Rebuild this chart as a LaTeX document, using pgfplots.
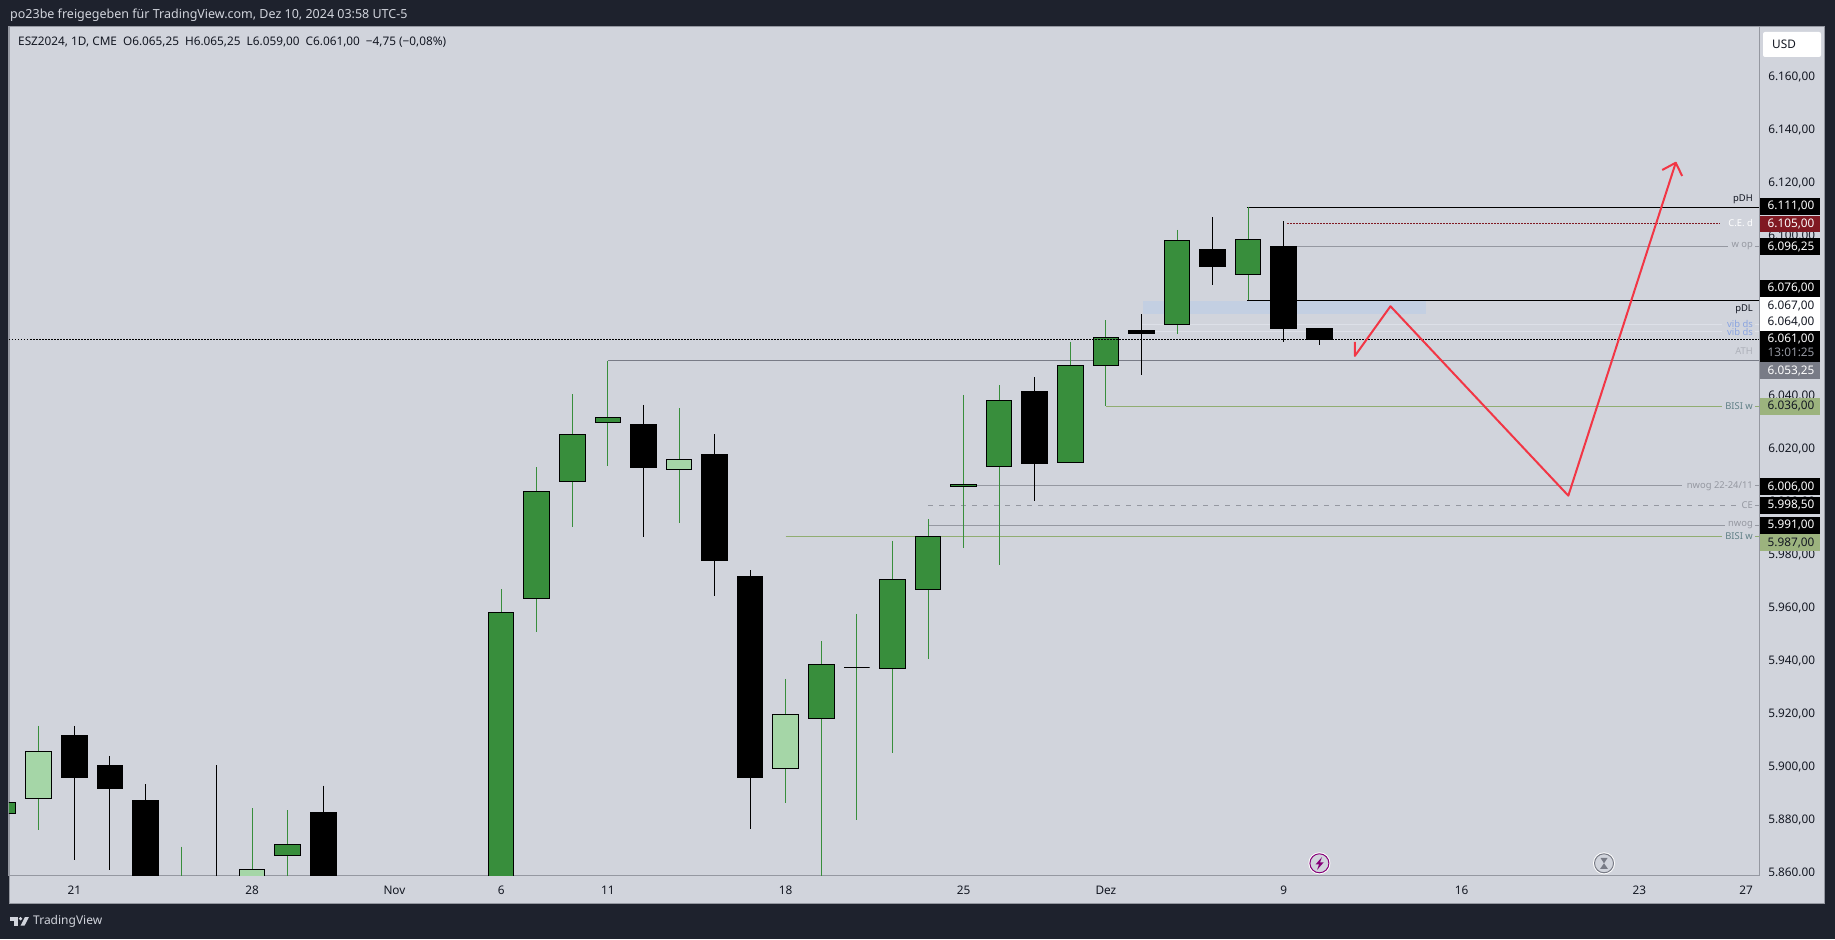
\documentclass[border=0pt]{standalone}
\usepackage{pgfplots}
\pgfplotsset{compat=1.18}
\usepackage{fontspec}
\setmainfont{Noto Sans}
\definecolor{frame}{HTML}{1E222D}
\definecolor{pane}{HTML}{D1D4DC}
\definecolor{bd}{HTML}{9598A1}
\definecolor{gA}{HTML}{388E3C}
\definecolor{gL}{HTML}{A5D6A7}
\definecolor{ath}{HTML}{787B86}
\definecolor{bisi}{HTML}{91AD72}
\definecolor{bisitag}{HTML}{9CB37E}
\definecolor{bisitxt}{HTML}{5F7F86}
\definecolor{vibtxt}{HTML}{8AA4E0}
\definecolor{vib}{HTML}{DDE0E8}
\definecolor{fvg}{HTML}{C3CFE2}
\definecolor{ced}{HTML}{801922}
\definecolor{redl}{HTML}{F23645}
\definecolor{ink}{HTML}{131722}
% x high bodytop bodybottom low bodycolour wickcolour
\newcommand\candle[7]{%
  \pgfmathsetmacro\xa{#1-0.36}\pgfmathsetmacro\xb{#1+0.36}%
  \addplot[draw=#7,line width=1pt] coordinates {(#1,#2)(#1,#5)};
  \edef\tmp{\noexpand\addplot[draw=black,fill=#6,line width=1pt] coordinates {(\xa,#3)(\xb,#3)(\xb,#4)(\xa,#4)} --cycle;}\tmp
}
\newcommand\T[6][9.4]{\node[anchor=#4,text=#5,inner sep=0pt,font=\fontsize{#1}{#1}\selectfont] at (#2,{939-#3}) {#6};}
\newcommand\tagbox[5]{\fill[#3] (1760,{939-#1}) rectangle (1820,{939-#2});
  \node[text=#4,inner sep=0pt,font=\fontsize{11.8}{12}\selectfont] at (1791,{939-(#1+#2)/2}) {#5};}
\begin{document}
\begin{tikzpicture}[x=1pt,y=1pt]
\path[use as bounding box] (0,0) rectangle (1835,939);
\fill[frame] (0,0) rectangle (1835,939);
\fill[pane,draw=bd,line width=1pt] (9.5,35.5) rectangle (1824.5,912);
\begin{axis}[
  at={(9pt,63pt)},anchor=south west,scale only axis,width=1750pt,height=849pt,
  xmin=-1.836,xmax=47.363,ymin=5858.95,ymax=6178.96,
  axis line style={draw=bd,line width=1pt},
  major tick length=0pt,
  xtick={0,5,9,12,15,20,25,29,34,39,44,47},
  xticklabels={21,28,Nov,6,11,18,25,Dez,9,16,23,27},
  xticklabel style={anchor=center,yshift=-14pt,inner sep=0pt,text=ink,font=\fontsize{11.8}{12}\selectfont},
  ytick={5860,5880,5900,5920,5940,5960,5980,6000,6020,6040,6060,6080,6100,6120,6140,6160},
  yticklabel pos=right,
  scaled y ticks=false,
  yticklabel style={anchor=west,xshift=9pt,inner sep=0pt,text=ink,font=\fontsize{11.8}{12}\selectfont,
    /pgf/number format/.cd,fixed,fixed zerofill,precision=2,1000 sep={.},dec sep={,},assume math mode=true},
]
% FVG
\addplot[draw=none,fill=fvg] coordinates {(30.04,6075.7)(38,6075.7)(38,6070.75)(30.04,6070.75)} --cycle;
% horizontals
\addplot[draw=vib,line width=1pt] coordinates {(30,6067)(46.32,6067)};
\addplot[draw=vib,line width=1pt] coordinates {(47.25,6067)(47.363,6067)};
\addplot[draw=vib,line width=1pt] coordinates {(30,6064)(46.32,6064)};
\addplot[draw=vib,line width=1pt] coordinates {(47.25,6064)(47.363,6064)};
\addplot[draw=black,line width=1pt] coordinates {(32.97,6111)(47.363,6111)};
\addplot[draw=black,line width=1pt] coordinates {(32.97,6076)(47.363,6076)};
\addplot[draw=ced,line width=1pt,dash pattern=on 1.5pt off 1.5pt] coordinates {(34.1,6105)(46.26,6105)};
\addplot[draw=bd,line width=1pt] coordinates {(34,6096.25)(46.49,6096.25)};
\addplot[draw=bd,line width=1pt] coordinates {(47.25,6096.25)(47.363,6096.25)};
\addplot[draw=ath,line width=1pt] coordinates {(15,6053.25)(47.363,6053.25)};
\addplot[draw=bisi,line width=1pt] coordinates {(29,6036)(46.32,6036)};
\addplot[draw=bisi,line width=1pt] coordinates {(47.25,6036)(47.363,6036)};
\addplot[draw=bd,line width=1pt] coordinates {(25,6006)(45.2,6006)};
\addplot[draw=bd,line width=1pt] coordinates {(47.25,6006)(47.363,6006)};
\addplot[draw=bd,line width=1pt,dash pattern=on 5pt off 6pt] coordinates {(24,5998.5)(46.75,5998.5)};
\addplot[draw=bd,line width=1pt] coordinates {(47.25,5998.5)(47.363,5998.5)};
\addplot[draw=bd,line width=1pt] coordinates {(24,5991)(46.41,5991)};
\addplot[draw=bd,line width=1pt] coordinates {(47.25,5991)(47.363,5991)};
\addplot[draw=bisi,line width=1pt] coordinates {(20,5987)(46.32,5987)};
\addplot[draw=bisi,line width=1pt] coordinates {(47.25,5987)(47.363,5987)};
% candles
\candle{-2}{5886.75}{5886.75}{5882.5}{5882.5}{gA}{gA}
\candle{-1}{5915.5}{5906}{5888}{5876.25}{gL}{gA}
\candle{0}{5915.5}{5911.75}{5896}{5865}{black}{black}
\candle{1}{5904.25}{5900.75}{5892}{5861.25}{black}{black}
\candle{2}{5893.5}{5887.25}{5850}{5845}{black}{black}
\candle{3}{5870}{5855}{5850}{5845}{gA}{gA}
\candle{4}{5900.75}{5855}{5850}{5845}{black}{black}
\candle{5}{5884.5}{5861.5}{5850}{5845}{gL}{gA}
\candle{6}{5883.75}{5871}{5866.5}{5850}{gA}{gA}
\candle{7}{5893}{5883}{5850}{5845}{black}{black}
\candle{12}{5967}{5958.25}{5850}{5845}{gA}{gA}
\candle{13}{6013}{6004}{5963.5}{5951}{gA}{gA}
\candle{14}{6040.5}{6025.5}{6007.5}{5990.5}{gA}{gA}
\candle{15}{6053.25}{6031.75}{6029.75}{6013.5}{gA}{gA}
\candle{16}{6036.5}{6029.25}{6012.75}{5986.75}{black}{black}
\candle{17}{6035.25}{6016}{6012}{5992}{gL}{gA}
\candle{18}{6025.5}{6018}{5978}{5964.5}{black}{black}
\candle{19}{5974.25}{5972}{5896.25}{5876.75}{black}{black}
\candle{20}{5933.25}{5920}{5899.5}{5886.5}{gL}{gA}
\candle{21}{5947.5}{5938.75}{5918.5}{5855}{gA}{gA}
\candle{22}{5957.75}{5937.5}{5937.5}{5880}{black}{gA}
\candle{23}{5985.25}{5970.75}{5937}{5905.25}{gA}{gA}
\candle{24}{5993.5}{5987}{5967}{5940.75}{gA}{gA}
\candle{25}{6040.25}{6006.5}{6005.75}{5982.75}{gA}{gA}
\candle{26}{6044}{6038.25}{6013.25}{5976.25}{gA}{gA}
\candle{27}{6047}{6041.75}{6014.5}{6000.25}{black}{black}
\candle{28}{6060.25}{6051.5}{6014.75}{6014.75}{gA}{gA}
\candle{29}{6068.5}{6062}{6051.5}{6036}{gA}{gA}
\candle{30}{6070.75}{6064.5}{6063.25}{6047.75}{black}{black}
\candle{31}{6102.5}{6098.5}{6066.75}{6063.25}{gA}{gA}
\candle{32}{6107.25}{6095.25}{6088.5}{6081.75}{black}{black}
\candle{33}{6111}{6099}{6085.5}{6076}{gA}{gA}
\candle{34}{6105.75}{6096.25}{6065.5}{6060.25}{black}{black}
\candle{35}{6065.25}{6065.25}{6061}{6059}{black}{black}
% last price
\addplot[draw=black,line width=1pt,dash pattern=on 1.5pt off 1.5pt] coordinates {(-1.836,6061)(47.363,6061)};
% sketch
\addplot[draw=redl,line width=2pt,line join=round] coordinates {(36,6060.3)(36,6055)(37,6073.7)(42,6002.3)(45.02,6127.8)};
\addplot[draw=redl,line width=2pt,line join=round] coordinates {(44.64,6125.06)(45.02,6127.8)(45.2,6122.8)};
\end{axis}
% cover under the price scale
\fill[pane] (1760,36.5) rectangle (1824,62.5);
% header and legend
\T[12.5]{10}{15}{west}{pane}{po23be freigegeben für TradingView.com, Dez 10, 2024 03:58 UTC-5}
\T[11.8]{18}{42}{west}{ink}{ESZ2024, 1D, CME\hspace{6pt}O6.065,25\hspace{6pt}H6.065,25\hspace{6pt}L6.059,00\hspace{6pt}C6.061,00\hspace{6pt}−4,75 (−0,08\%)}
% USD
\fill[white,rounded corners=2pt] (1763,{939-32}) rectangle (1821,{939-57});
\T[11.8]{1784}{44}{center}{ink}{USD}
% line labels
\T{1753}{199}{east}{ink}{pDH}
\T{1753}{223}{east}{white}{\textbf{C.E. d}}
\T{1753}{246.5}{east}{bd}{w op}
\T{1753}{309}{east}{ink}{pDL}
\T{1753}{323.5}{east}{vibtxt}{vib ds}
\T{1753}{332}{east}{vibtxt}{vib ds}
\T{1753}{351.5}{east}{bd!60!pane}{\textbf{ATH}}
\T{1753}{406}{east}{bisitxt}{BISI w}
\T{1753}{486}{east}{bd}{nwog 22-24/11}
\T{1753}{505.5}{east}{bd}{CE}
\T{1753}{525.5}{east}{bd}{nwog}
\T{1753}{536.5}{east}{bisitxt}{BISI w}
% price tags
\tagbox{198}{214.7}{black}{white}{6.111,00}
\tagbox{215.7}{232}{ced}{white}{6.105,00}
\tagbox{238}{255}{black}{white}{6.096,25}
\tagbox{280}{296.7}{black}{white}{6.076,00}
\tagbox{297.3}{314}{white}{ink}{6.067,00}
\tagbox{314}{330.7}{white}{ink}{6.064,00}
\fill[black] (1760,{939-331.3}) rectangle (1820,{939-361.7});
\T[11.8]{1791}{339}{center}{white}{6.061,00}
\T[11.8]{1791}{352.5}{center}{bd}{13:01:25}
\tagbox{362.3}{378.7}{ath}{white}{6.053,25}
\tagbox{398}{414.7}{bisitag}{ink}{6.036,00}
\tagbox{478.3}{495}{black}{white}{6.006,00}
\tagbox{497}{513.7}{black}{white}{5.998,50}
\tagbox{517}{533.7}{black}{white}{5.991,00}
\tagbox{534.3}{550.7}{bisitag}{ink}{5.987,00}
% bottom icons
\fill[white] (1319.4,{939-863.3}) circle (11);
\draw[purple!70!blue,line width=1pt,fill=pane] (1319.4,{939-863.3}) circle (9.5);
\fill[purple!70!blue] (1322,{939-857}) -- (1315.5,{939-864.5}) -- (1319,{939-864.5}) -- (1317,{939-870}) -- (1323.5,{939-862.5}) -- (1320,{939-862.5}) -- cycle;
\fill[white] (1604,{939-863.3}) circle (11);
\draw[ath,line width=1pt,fill=pane] (1604,{939-863.3}) circle (9.5);
\fill[ath] (1600.5,{939-858}) -- (1607.5,{939-858}) -- (1604,{939-863.3}) -- cycle;
\fill[ath] (1600,{939-869}) -- (1608,{939-869}) -- (1604,{939-863.3}) -- cycle;
% logo
\fill[pane] (10,{939-917}) rectangle (18,{939-920.5});
\fill[pane] (14,{939-917}) rectangle (18,{939-925.7});
\fill[pane] (20.5,{939-918.7}) circle (1.8);
\fill[pane] (25,{939-917}) -- (29,{939-917}) -- (24.5,{939-925.7}) -- (20.5,{939-925.7}) -- cycle;
\T[12]{33}{921.5}{west}{pane}{TradingView}
\end{tikzpicture}
\end{document}
